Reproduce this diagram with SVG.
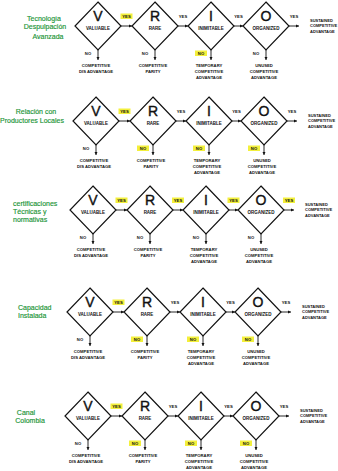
<svg xmlns="http://www.w3.org/2000/svg" xmlns:xlink="http://www.w3.org/1999/xlink" width="338" height="471" viewBox="0 0 338 471">
<style>
.dia{fill:none;stroke:#111;stroke-width:1.2;stroke-linejoin:miter}
.big{font-family:"Liberation Sans",Arial,sans-serif;font-weight:normal;font-size:14px;fill:#111;stroke:#111;stroke-width:0.4;text-anchor:middle}
.w{font-family:"Liberation Sans",Arial,sans-serif;font-weight:bold;font-size:4.5px;fill:#111;text-anchor:middle}
.out text{font-family:"Liberation Sans",Arial,sans-serif;font-weight:bold;font-size:4.2px;fill:#111;text-anchor:middle}
.sca text{font-family:"Liberation Sans",Arial,sans-serif;font-weight:bold;font-size:4px;fill:#111;text-anchor:start}
.conn line{stroke:#111;stroke-width:0.9;marker-end:url(#ah)}
.conn text{font-family:"Liberation Sans",Arial,sans-serif;font-weight:bold;font-size:4.2px;fill:#111;text-anchor:middle}
.hl{fill:#f3f03c}
.lbl text{font-family:"Liberation Sans",Arial,sans-serif;font-size:7px;fill:#1a9436;stroke:#1a9436;stroke-width:0.15}
</style>
<defs>
<marker id="ah" markerUnits="userSpaceOnUse" markerWidth="4" markerHeight="4" refX="3.5" refY="1.75" orient="auto"><path d="M0,0 L3.5,1.75 L0,3.5 z" fill="#111"/></marker>
<polygon id="dia" class="dia" points="0,-24 23,0 0,24 -23,0"/>
</defs>
<rect width="338" height="471" fill="#fff"/>

<!-- Green row labels -->
<g id="label-1" class="lbl"><text x="44" y="20.5" text-anchor="middle" font-size="7.5">Tecnología</text><text x="45" y="29" text-anchor="middle">Despulpación</text><text x="48" y="38.5" text-anchor="middle">Avanzada</text></g>
<g id="label-2" class="lbl"><text x="36" y="113.5" text-anchor="middle">Relación con</text><text x="32" y="122.5" text-anchor="middle" font-size="6.6">Productores Locales</text></g>
<g id="label-3" class="lbl"><text x="13" y="205.5" font-size="6.6">certificaciones</text><text x="13" y="214" font-size="6.6">Técnicas y</text><text x="13" y="222" font-size="6.6">normativas</text></g>
<g id="label-4" class="lbl"><text x="18" y="309.5">Capacidad</text><text x="18" y="317.5">Instalada</text></g>
<g id="label-5" class="lbl"><text x="26" y="414.5" text-anchor="middle" font-size="6.2">Canal</text><text x="30" y="422.5" text-anchor="middle" font-size="6.2">Colombia</text></g>

<!-- Connectors -->
<g id="connectors">
<g id="r1-conn" class="conn" transform="translate(98,26)">
<line x1="23" y1="0" x2="34" y2="0"/><line x1="80" y1="0" x2="90" y2="0"/><line x1="136" y1="0" x2="145" y2="0"/><line x1="191" y1="0" x2="201" y2="0"/>
<line x1="0" y1="24" x2="0" y2="34"/><line x1="57" y1="24" x2="57" y2="34"/><line x1="113" y1="24" x2="113" y2="34"/><line x1="168" y1="24" x2="168" y2="34"/>
<rect class="hl" x="22.5" y="-12.5" width="12" height="5.5"/><text x="28.5" y="-8">YES</text>
<text x="85" y="-8">YES</text><text x="140.5" y="-8">YES</text><text x="196" y="-8">YES</text>
<text x="-10" y="29">NO</text><text x="47" y="29">NO</text>
<rect class="hl" x="97" y="24.5" width="12" height="5.5"/><text x="103" y="29">NO</text>
<text x="158" y="29">NO</text>
</g>
<g id="r2-conn" class="conn" transform="translate(96,121)">
<line x1="23" y1="0" x2="34" y2="0"/><line x1="80" y1="0" x2="90" y2="0"/><line x1="136" y1="0" x2="145" y2="0"/><line x1="191" y1="0" x2="201" y2="0"/>
<line x1="0" y1="24" x2="0" y2="34"/><line x1="57" y1="24" x2="57" y2="34"/><line x1="113" y1="24" x2="113" y2="34"/><line x1="168" y1="24" x2="168" y2="34"/>
<rect class="hl" x="22.5" y="-12.5" width="12" height="5.5"/><text x="28.5" y="-8">YES</text>
<text x="85" y="-8">YES</text><text x="140.5" y="-8">YES</text><text x="196" y="-8">YES</text>
<text x="-10" y="29">NO</text>
<rect class="hl" x="41" y="24.5" width="12" height="5.5"/><text x="47" y="29">NO</text>
<rect class="hl" x="97" y="24.5" width="12" height="5.5"/><text x="103" y="29">NO</text>
<rect class="hl" x="152" y="24.5" width="12" height="5.5"/><text x="158" y="29">NO</text>
</g>
<g id="r3-conn" class="conn" transform="translate(93,210)">
<line x1="23" y1="0" x2="34" y2="0"/><line x1="80" y1="0" x2="90" y2="0"/><line x1="136" y1="0" x2="145" y2="0"/><line x1="191" y1="0" x2="201" y2="0"/>
<line x1="0" y1="24" x2="0" y2="34"/><line x1="57" y1="24" x2="57" y2="34"/><line x1="113" y1="24" x2="113" y2="34"/><line x1="168" y1="24" x2="168" y2="34"/>
<rect class="hl" x="22.5" y="-12.5" width="12" height="5.5"/><text x="28.5" y="-8">YES</text>
<rect class="hl" x="79" y="-12.5" width="12" height="5.5"/><text x="85" y="-8">YES</text>
<rect class="hl" x="134.5" y="-12.5" width="12" height="5.5"/><text x="140.5" y="-8">YES</text>
<rect class="hl" x="190" y="-12.5" width="12" height="5.5"/><text x="196" y="-8">YES</text>
<text x="-10" y="29">NO</text><text x="47" y="29">NO</text><text x="103" y="29">NO</text><text x="158" y="29">NO</text>
</g>
<g id="r4-conn" class="conn" transform="translate(90,312)">
<line x1="23" y1="0" x2="34" y2="0"/><line x1="80" y1="0" x2="90" y2="0"/><line x1="136" y1="0" x2="145" y2="0"/><line x1="191" y1="0" x2="201" y2="0"/>
<line x1="0" y1="24" x2="0" y2="34"/><line x1="57" y1="24" x2="57" y2="34"/><line x1="113" y1="24" x2="113" y2="34"/><line x1="168" y1="24" x2="168" y2="34"/>
<rect class="hl" x="22.5" y="-12.5" width="12" height="5.5"/><text x="28.5" y="-8">YES</text>
<text x="85" y="-8">YES</text><text x="140.5" y="-8">YES</text><text x="196" y="-8">YES</text>
<text x="-10" y="29">NO</text>
<rect class="hl" x="41" y="24.5" width="12" height="5.5"/><text x="47" y="29">NO</text>
<rect class="hl" x="97" y="24.5" width="12" height="5.5"/><text x="103" y="29">NO</text>
<rect class="hl" x="152" y="24.5" width="12" height="5.5"/><text x="158" y="29">NO</text>
</g>
<g id="r5-conn" class="conn" transform="translate(88,416)">
<line x1="23" y1="0" x2="34" y2="0"/><line x1="80" y1="0" x2="90" y2="0"/><line x1="136" y1="0" x2="145" y2="0"/><line x1="191" y1="0" x2="201" y2="0"/>
<line x1="0" y1="24" x2="0" y2="34"/><line x1="57" y1="24" x2="57" y2="34"/><line x1="113" y1="24" x2="113" y2="34"/><line x1="168" y1="24" x2="168" y2="34"/>
<rect class="hl" x="22.5" y="-12.5" width="12" height="5.5"/><text x="28.5" y="-8">YES</text>
<text x="85" y="-8">YES</text><text x="140.5" y="-8">YES</text><text x="196" y="-8">YES</text>
<text x="-10" y="29">NO</text>
<rect class="hl" x="41" y="24.5" width="12" height="5.5"/><text x="47" y="29">NO</text>
<rect class="hl" x="97" y="24.5" width="12" height="5.5"/><text x="103" y="29">NO</text>
<rect class="hl" x="152" y="24.5" width="12" height="5.5"/><text x="158" y="29">NO</text>
</g>
</g>

<!-- Nodes row 1 -->
<g id="row1" transform="translate(98,26)">
<g id="r1-v"><use href="#dia"/><text class="big" y="-5.5">V</text><text class="w" y="3.5">VALUABLE</text></g>
<g id="r1-r" transform="translate(57,0)"><use href="#dia"/><text class="big" y="-5.5">R</text><text class="w" y="3.5">RARE</text></g>
<g id="r1-i" transform="translate(113,0)"><use href="#dia"/><text class="big" y="-5.5">I</text><text class="w" y="3.5">INIMITABLE</text></g>
<g id="r1-o" transform="translate(168,0)"><use href="#dia"/><text class="big" y="-5.5">O</text><text class="w" y="3.5">ORGANIZED</text></g>
<g id="r1-dis" class="out" transform="translate(-2,0)"><text y="40.5">COMPETITIVE</text><text y="46.5">DIS ADVANTAGE</text></g>
<g id="r1-par" class="out" transform="translate(55,0)"><text y="40.5">COMPETITIVE</text><text y="46.5">PARITY</text></g>
<g id="r1-tmp" class="out" transform="translate(111,0)"><text y="40.5">TEMPORARY</text><text y="46.5">COMPETITIVE</text><text y="52.5">ADVANTAGE</text></g>
<g id="r1-unu" class="out" transform="translate(166,0)"><text y="40.5">UNUSED</text><text y="46.5">COMPETITIVE</text><text y="52.5">ADVANTAGE</text></g>
<g id="r1-sca" class="sca" transform="translate(212,0)"><text y="-4.5">SUSTAINED</text><text y="1">COMPETITIVE</text><text y="6.5">ADVANTAGE</text></g>
</g>

<g id="row2" transform="translate(96,121)">
<g id="r2-v"><use href="#dia"/><text class="big" y="-5.5">V</text><text class="w" y="3.5">VALUABLE</text></g>
<g id="r2-r" transform="translate(57,0)"><use href="#dia"/><text class="big" y="-5.5">R</text><text class="w" y="3.5">RARE</text></g>
<g id="r2-i" transform="translate(113,0)"><use href="#dia"/><text class="big" y="-5.5">I</text><text class="w" y="3.5">INIMITABLE</text></g>
<g id="r2-o" transform="translate(168,0)"><use href="#dia"/><text class="big" y="-5.5">O</text><text class="w" y="3.5">ORGANIZED</text></g>
<g id="r2-dis" class="out" transform="translate(-2,0)"><text y="40.5">COMPETITIVE</text><text y="46.5">DIS ADVANTAGE</text></g>
<g id="r2-par" class="out" transform="translate(55,0)"><text y="40.5">COMPETITIVE</text><text y="46.5">PARITY</text></g>
<g id="r2-tmp" class="out" transform="translate(111,0)"><text y="40.5">TEMPORARY</text><text y="46.5">COMPETITIVE</text><text y="52.5">ADVANTAGE</text></g>
<g id="r2-unu" class="out" transform="translate(166,0)"><text y="40.5">UNUSED</text><text y="46.5">COMPETITIVE</text><text y="52.5">ADVANTAGE</text></g>
<g id="r2-sca" class="sca" transform="translate(212,0)"><text y="-4.5">SUSTAINED</text><text y="1">COMPETITIVE</text><text y="6.5">ADVANTAGE</text></g>
</g>

<g id="row3" transform="translate(93,210)">
<g id="r3-v"><use href="#dia"/><text class="big" y="-5.5">V</text><text class="w" y="3.5">VALUABLE</text></g>
<g id="r3-r" transform="translate(57,0)"><use href="#dia"/><text class="big" y="-5.5">R</text><text class="w" y="3.5">RARE</text></g>
<g id="r3-i" transform="translate(113,0)"><use href="#dia"/><text class="big" y="-5.5">I</text><text class="w" y="3.5">INIMITABLE</text></g>
<g id="r3-o" transform="translate(168,0)"><use href="#dia"/><text class="big" y="-5.5">O</text><text class="w" y="3.5">ORGANIZED</text></g>
<g id="r3-dis" class="out" transform="translate(-2,0)"><text y="40.5">COMPETITIVE</text><text y="46.5">DIS ADVANTAGE</text></g>
<g id="r3-par" class="out" transform="translate(55,0)"><text y="40.5">COMPETITIVE</text><text y="46.5">PARITY</text></g>
<g id="r3-tmp" class="out" transform="translate(111,0)"><text y="40.5">TEMPORARY</text><text y="46.5">COMPETITIVE</text><text y="52.5">ADVANTAGE</text></g>
<g id="r3-unu" class="out" transform="translate(166,0)"><text y="40.5">UNUSED</text><text y="46.5">COMPETITIVE</text><text y="52.5">ADVANTAGE</text></g>
<g id="r3-sca" class="sca" transform="translate(212,0)"><text y="-4.5">SUSTAINED</text><text y="1">COMPETITIVE</text><text y="6.5">ADVANTAGE</text></g>
</g>

<g id="row4" transform="translate(90,312)">
<g id="r4-v"><use href="#dia"/><text class="big" y="-5.5">V</text><text class="w" y="3.5">VALUABLE</text></g>
<g id="r4-r" transform="translate(57,0)"><use href="#dia"/><text class="big" y="-5.5">R</text><text class="w" y="3.5">RARE</text></g>
<g id="r4-i" transform="translate(113,0)"><use href="#dia"/><text class="big" y="-5.5">I</text><text class="w" y="3.5">INIMITABLE</text></g>
<g id="r4-o" transform="translate(168,0)"><use href="#dia"/><text class="big" y="-5.5">O</text><text class="w" y="3.5">ORGANIZED</text></g>
<g id="r4-dis" class="out" transform="translate(-2,0)"><text y="40.5">COMPETITIVE</text><text y="46.5">DIS ADVANTAGE</text></g>
<g id="r4-par" class="out" transform="translate(55,0)"><text y="40.5">COMPETITIVE</text><text y="46.5">PARITY</text></g>
<g id="r4-tmp" class="out" transform="translate(111,0)"><text y="40.5">TEMPORARY</text><text y="46.5">COMPETITIVE</text><text y="52.5">ADVANTAGE</text></g>
<g id="r4-unu" class="out" transform="translate(166,0)"><text y="40.5">UNUSED</text><text y="46.5">COMPETITIVE</text><text y="52.5">ADVANTAGE</text></g>
<g id="r4-sca" class="sca" transform="translate(212,0)"><text y="-4.5">SUSTAINED</text><text y="1">COMPETITIVE</text><text y="6.5">ADVANTAGE</text></g>
</g>

<g id="row5" transform="translate(88,416)">
<g id="r5-v"><use href="#dia"/><text class="big" y="-5.5">V</text><text class="w" y="3.5">VALUABLE</text></g>
<g id="r5-r" transform="translate(57,0)"><use href="#dia"/><text class="big" y="-5.5">R</text><text class="w" y="3.5">RARE</text></g>
<g id="r5-i" transform="translate(113,0)"><use href="#dia"/><text class="big" y="-5.5">I</text><text class="w" y="3.5">INIMITABLE</text></g>
<g id="r5-o" transform="translate(168,0)"><use href="#dia"/><text class="big" y="-5.5">O</text><text class="w" y="3.5">ORGANIZED</text></g>
<g id="r5-dis" class="out" transform="translate(-2,0)"><text y="40.5">COMPETITIVE</text><text y="46.5">DIS ADVANTAGE</text></g>
<g id="r5-par" class="out" transform="translate(55,0)"><text y="40.5">COMPETITIVE</text><text y="46.5">PARITY</text></g>
<g id="r5-tmp" class="out" transform="translate(111,0)"><text y="40.5">TEMPORARY</text><text y="46.5">COMPETITIVE</text><text y="52.5">ADVANTAGE</text></g>
<g id="r5-unu" class="out" transform="translate(166,0)"><text y="40.5">UNUSED</text><text y="46.5">COMPETITIVE</text><text y="52.5">ADVANTAGE</text></g>
<g id="r5-sca" class="sca" transform="translate(212,0)"><text y="-4.5">SUSTAINED</text><text y="1">COMPETITIVE</text><text y="6.5">ADVANTAGE</text></g>
</g>
</svg>
